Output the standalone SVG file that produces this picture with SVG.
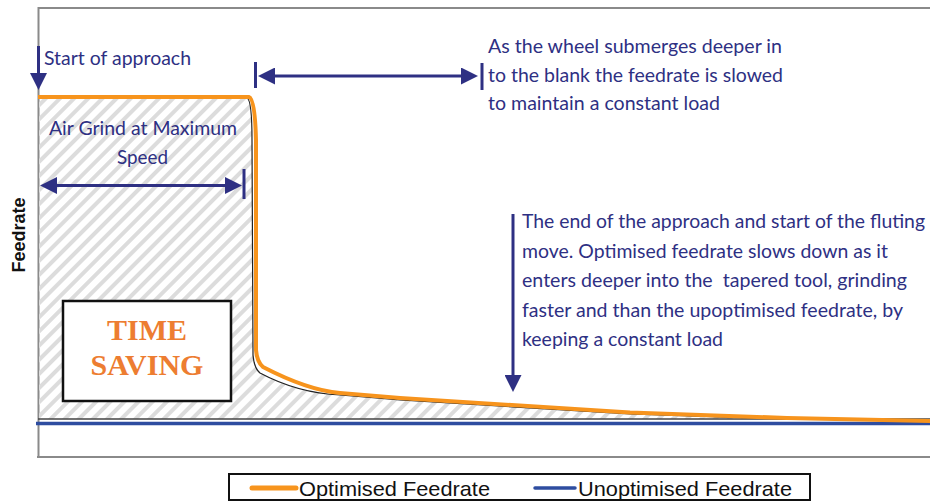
<svg xmlns="http://www.w3.org/2000/svg" width="930" height="502" viewBox="0 0 930 502">
<style>
.nt{font-family:Lato,"Open Sans","Liberation Sans",sans-serif;font-size:19px;fill:#2e3083}
.nav{stroke:#2e3083;stroke-width:3;fill:none}
.bar{stroke:#2e3083;stroke-width:3}
.leg{font-family:"Liberation Sans",Arial,sans-serif;font-size:21px;fill:#111}
</style>
<defs>
<pattern id="hatch" patternUnits="userSpaceOnUse" width="10" height="10" patternTransform="rotate(45)">
<rect x="0" y="0" width="4" height="10" fill="#dcdcdc"/>
</pattern>
<marker id="ah" viewBox="0 0 17 17" markerWidth="17" markerHeight="17" markerUnits="userSpaceOnUse" refX="8" refY="8.5" orient="auto-start-reverse">
<path d="M0,0 L17,8.5 L0,17 Z" fill="#2e3083"/>
</marker>
</defs>
<rect width="930" height="502" fill="#fff"/>
<g id="frame">
<path d="M38.5,457 L38.5,8 L935,8" fill="none" stroke="#8a8a8a" stroke-width="2"/>
<line x1="37" y1="457" x2="935" y2="457" stroke="#8a8a8a" stroke-width="2"/>
</g>
<g id="time-saving-area">
<path d="M39,98 L247,98 Q252,100 252,140 L253,355 Q254,368 260,373 C290,389 318,394 340,395 L400,400 L630,414 L785,419 L39,419 Z" fill="url(#hatch)"/>
<path d="M247,98 Q252,100 252,140 L253,355 Q254,368 260,373 C290,389 318,394 340,395 L400,400 L630,414 L785,419" fill="none" stroke="#222" stroke-width="1.2"/>
</g>
<g id="axes">
<line x1="38" y1="419" x2="935" y2="419" stroke="#444" stroke-width="1.5"/>
<line x1="36" y1="423.5" x2="935" y2="423.5" stroke="#2e4da0" stroke-width="3.5"/>
<text x="0" y="0" transform="translate(25,235) rotate(-90)" text-anchor="middle" font-family="'Liberation Sans',Arial,sans-serif" font-size="18" font-weight="bold" fill="#111">Feedrate</text>
</g>
<g id="optimised-curve">
<path d="M38,97 L249,97 Q255,98 256,140 L256,350 Q257,362 263,367 C290,381 316,391 340,393 L400,398 L630,412.5 L787,418 L935,421" fill="none" stroke="#f7941d" stroke-width="4" stroke-linejoin="round"/>
</g>
<g id="time-saving-box">
<rect x="63" y="301" width="168" height="100" fill="#fff" stroke="#111" stroke-width="2.5"/>
<text x="147" y="340" text-anchor="middle" font-family="'Liberation Serif','Times New Roman',serif" font-size="30" font-weight="bold" fill="#ed7d31">TIME</text>
<text x="147" y="375" text-anchor="middle" font-family="'Liberation Serif','Times New Roman',serif" font-size="30" font-weight="bold" fill="#ed7d31">SAVING</text>
</g>
<g id="connectors">
<line class="nav" x1="38.5" y1="46" x2="38.5" y2="81" marker-end="url(#ah)"/>
<line class="nav" x1="49" y1="185.5" x2="233" y2="185.5" marker-start="url(#ah)" marker-end="url(#ah)"/>
<line class="bar" x1="244" y1="169" x2="244" y2="199" stroke-width="2.5"/>
<line class="nav" x1="267" y1="76" x2="469" y2="76" marker-start="url(#ah)" marker-end="url(#ah)"/>
<line class="bar" x1="255.5" y1="62" x2="255.5" y2="88"/>
<line class="bar" x1="482" y1="63" x2="482" y2="90"/>
<line class="nav" x1="513" y1="214" x2="513" y2="383" marker-end="url(#ah)"/>
</g>
<g id="label-start">
<text class="nt" x="44" y="65" textLength="147" lengthAdjust="spacingAndGlyphs">Start of approach</text>
</g>
<g id="label-airgrind">
<text class="nt" x="49" y="135" textLength="188" lengthAdjust="spacingAndGlyphs">Air Grind at Maximum</text>
<text class="nt" x="117" y="164" textLength="51" lengthAdjust="spacingAndGlyphs">Speed</text>
</g>
<g id="label-submerge">
<text class="nt" x="488" y="53" textLength="294" lengthAdjust="spacingAndGlyphs">As the wheel submerges deeper in</text>
<text class="nt" x="488" y="82" textLength="295" lengthAdjust="spacingAndGlyphs">to the blank the feedrate is slowed</text>
<text class="nt" x="488" y="110" textLength="232" lengthAdjust="spacingAndGlyphs">to maintain a constant load</text>
</g>
<g id="label-end">
<text class="nt" x="522" y="228" textLength="403" lengthAdjust="spacingAndGlyphs">The end of the approach and start of the fluting</text>
<text class="nt" x="522" y="257.5" textLength="366" lengthAdjust="spacingAndGlyphs">move. Optimised feedrate slows down as it</text>
<text class="nt" x="522" y="287" textLength="385" lengthAdjust="spacingAndGlyphs" xml:space="preserve">enters deeper into the  tapered tool, grinding</text>
<text class="nt" x="522" y="316.5" textLength="381" lengthAdjust="spacingAndGlyphs">faster and than the upoptimised feedrate, by</text>
<text class="nt" x="522" y="346" textLength="201" lengthAdjust="spacingAndGlyphs">keeping a constant load</text>
</g>
<g id="legend">
<rect x="229" y="474" width="581" height="26" fill="#fff" stroke="#111" stroke-width="2"/>
<line x1="252" y1="488" x2="296" y2="488" stroke="#f7941d" stroke-width="5" stroke-linecap="round"/>
<text class="leg" x="299" y="496" textLength="191" lengthAdjust="spacingAndGlyphs">Optimised Feedrate</text>
<line x1="535" y1="488" x2="575" y2="488" stroke="#2e4da0" stroke-width="3.5" stroke-linecap="round"/>
<text class="leg" x="578" y="496" textLength="214" lengthAdjust="spacingAndGlyphs">Unoptimised Feedrate</text>
</g>
</svg>
